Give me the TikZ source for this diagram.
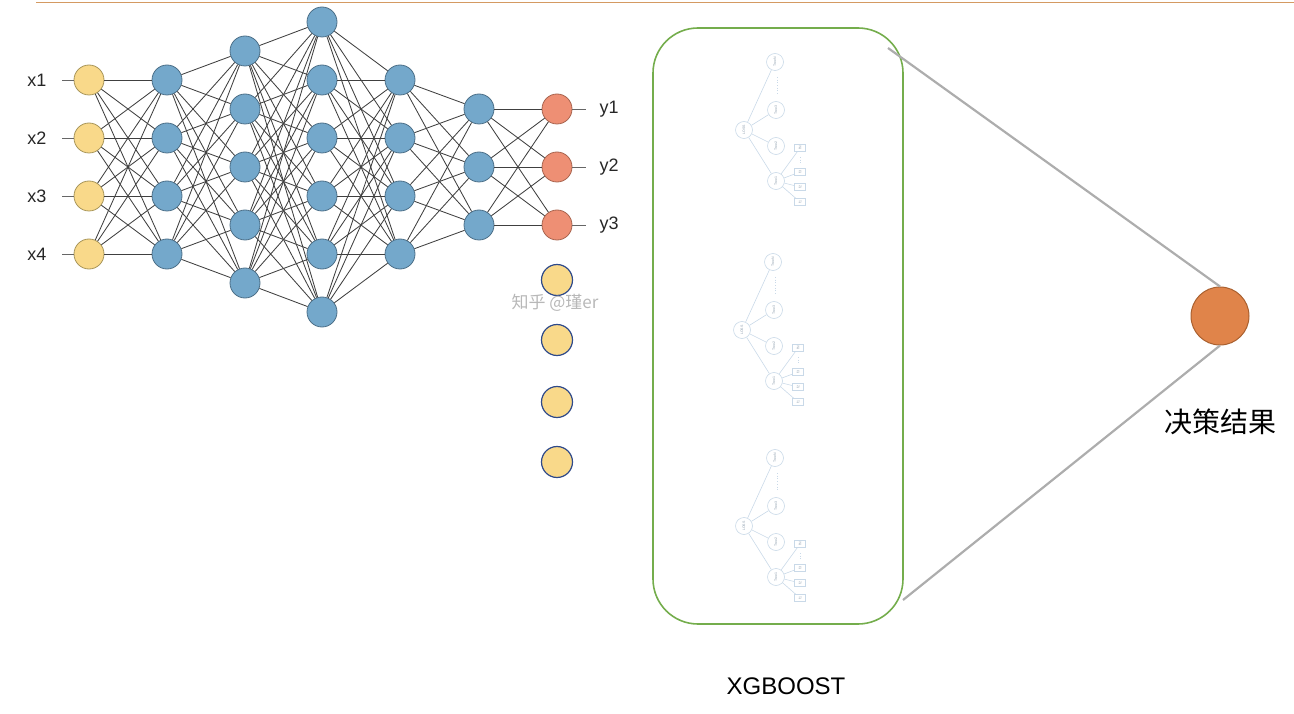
\documentclass[tikz,border=0pt]{standalone}
\usepackage{fontspec}
\setmainfont{Liberation Sans}
\newfontfamily\cjk{Noto Sans CJK SC}
\usetikzlibrary{calc}
\definecolor{inyellow}{HTML}{F9D98A}
\definecolor{inborder}{HTML}{A8965A}
\definecolor{hidblue}{HTML}{74A8CB}
\definecolor{hidborder}{HTML}{4C6F88}
\definecolor{outsalmon}{HTML}{EE8F74}
\definecolor{outborder}{HTML}{A8644F}
\definecolor{navyb}{HTML}{2F4A8A}
\definecolor{boxgreen}{HTML}{74AD4C}
\definecolor{resorange}{HTML}{E0844A}
\definecolor{resborder}{HTML}{A9602F}
\definecolor{topline}{HTML}{D49A62}
\definecolor{treeline}{HTML}{C9D9E8}
\definecolor{treetext}{HTML}{8E9EAE}
\tikzset{
  neuron/.style={circle,minimum size=30pt,inner sep=0pt,line width=0.8pt},
  inp/.style={neuron,fill=inyellow,draw=inborder},
  hid/.style={neuron,fill=hidblue,draw=hidborder},
  outp/.style={neuron,fill=outsalmon,draw=outborder},
  extra/.style={neuron,minimum size=31pt,fill=inyellow,draw=navyb,line width=1.2pt},
  conn/.style={draw=black!75,line width=0.85pt},
  iol/.style={draw=black!60,line width=0.9pt},
  lbl/.style={font=\fontsize{18}{18}\selectfont,text=black!85},
  tcirc/.style={circle,draw=treeline,fill=white,line width=0.6pt,minimum size=17pt,inner sep=0pt,font=\fontsize{3.5}{3.5}\selectfont,text=treetext},
  tleaf/.style={rectangle,draw=treeline,fill=white,line width=0.6pt,minimum width=7pt,minimum height=11pt,inner sep=0pt,font=\fontsize{3.5}{3.5}\selectfont,text=treetext},
  tedge/.style={draw=treeline,line width=0.6pt},
  tdots/.style={draw=treeline,line width=0.7pt,dotted},
  grayl/.style={draw=black!32,line width=2.2pt}
}
\newcommand\xgtree[2]{%
\begin{scope}[shift={#2}]
  \node[tcirc,rotate=90] (#1r) at (0,0) {LOSS};
  \node[tcirc,rotate=90] (#1n) at (31,-68) {TreeN};
  \node[tcirc,rotate=90] (#1c) at (32,-20) {Tree3};
  \node[tcirc,rotate=90] (#1b) at (32,16) {Tree2};
  \node[tcirc,rotate=90] (#1a) at (32,51) {Tree1};
  \node[tleaf,rotate=90] (#1l4) at (56,18) {fN};
  \node[tleaf,rotate=90] (#1l3) at (56,42) {f3};
  \node[tleaf,rotate=90] (#1l2) at (56,57) {f2};
  \node[tleaf,rotate=90] (#1l1) at (56,72) {f1};
  \foreach \t in {n,c,b,a} \draw[tedge] (#1r) -- (#1\t);
  \foreach \t in {1,2,3,4} \draw[tedge] (#1a) -- (#1l\t);
  \coordinate (#1d1) at (33,-53);
  \coordinate (#1d2) at (33,-35);
  \draw[tdots] (#1d1) -- (#1d2);
  \coordinate (#1e1) at (56,27);
  \coordinate (#1e2) at (56,34);
  \draw[tdots] (#1e1) -- (#1e2);
\end{scope}}
\begin{document}
\begin{tikzpicture}[x=1pt,y=-1pt]
\useasboundingbox (0,0) rectangle (1294,714);
% top rule
\coordinate (tl1) at (36,2);
\coordinate (tl2) at (1294,2);
\draw[draw=topline,line width=0.9pt] (tl1) -- (tl2);
% layers
\foreach \i/\y in {1/80,2/138,3/196,4/254} \node[inp] (a\i) at (89,\y) {};
\foreach \i/\y in {1/80,2/138,3/196,4/254} \node[hid] (b\i) at (167,\y) {};
\foreach \i/\y in {1/51,2/109,3/167,4/225,5/283} \node[hid] (c\i) at (245,\y) {};
\foreach \i/\y in {1/22,2/80,3/138,4/196,5/254,6/312} \node[hid] (d\i) at (322,\y) {};
\foreach \i/\y in {1/80,2/138,3/196,4/254} \node[hid] (e\i) at (400,\y) {};
\foreach \i/\y in {1/109,2/167,3/225} \node[hid] (f\i) at (479,\y) {};
\foreach \i/\y in {1/109,2/167,3/225} \node[outp] (g\i) at (557,\y) {};
% connections
\foreach \i in {1,...,4} \foreach \j in {1,...,4} \draw[conn] (a\i) -- (b\j);
\foreach \i in {1,...,4} \foreach \j in {1,...,5} \draw[conn] (b\i) -- (c\j);
\foreach \i in {1,...,5} \foreach \j in {1,...,6} \draw[conn] (c\i) -- (d\j);
\foreach \i in {1,...,6} \foreach \j in {1,...,4} \draw[conn] (d\i) -- (e\j);
\foreach \i in {1,...,4} \foreach \j in {1,...,3} \draw[conn] (e\i) -- (f\j);
\foreach \i in {1,...,3} \foreach \j in {1,...,3} \draw[conn] (f\i) -- (g\j);
% inputs
\foreach \i/\y in {1/80,2/138,3/196,4/254} {
  \coordinate (xin\i) at (62,\y);
  \draw[iol] (xin\i) -- (a\i);
  \node[lbl] (xl\i) at (37,\y) {x\i};
}
% outputs
\foreach \i/\y in {1/109,2/167,3/225} {
  \coordinate (yout\i) at (586,\y);
  \draw[iol] (g\i) -- (yout\i);
  \node[lbl] (yl\i) at (609,\y) {y\i};
}
% extra yellow circles
\foreach \i/\y in {1/280,2/340,3/402,4/462} \node[extra] (h\i) at (557,\y) {};
% watermark
\node[font=\cjk\fontsize{17}{17}\selectfont,text=black!28] (wm) at (555,303) {知乎 @瑾er};
% xgboost box
\node[draw=boxgreen,line width=1.6pt,rounded corners=45pt,minimum width=250pt,minimum height=596pt,inner sep=0pt] (box) at (778,326) {};
\xgtree{ta}{(744,130)}
\xgtree{tb}{(742,330)}
\xgtree{tc}{(744,526)}
\node[font=\fontsize{24}{24}\selectfont] (xg) at (786,686) {XGBOOST};
% result
\node[circle,minimum size=58pt,inner sep=0pt,fill=resorange,draw=resborder,line width=1pt] (res) at (1220,316) {};
\coordinate (bt) at (888,48);
\coordinate (bb) at (903,600);
\draw[grayl] (bt) -- (res.north);
\draw[grayl] (bb) -- (res.south);
\node[font=\cjk\fontsize{28}{28}\selectfont] (rl) at (1220,422) {决策结果};
\end{tikzpicture}
\end{document}
